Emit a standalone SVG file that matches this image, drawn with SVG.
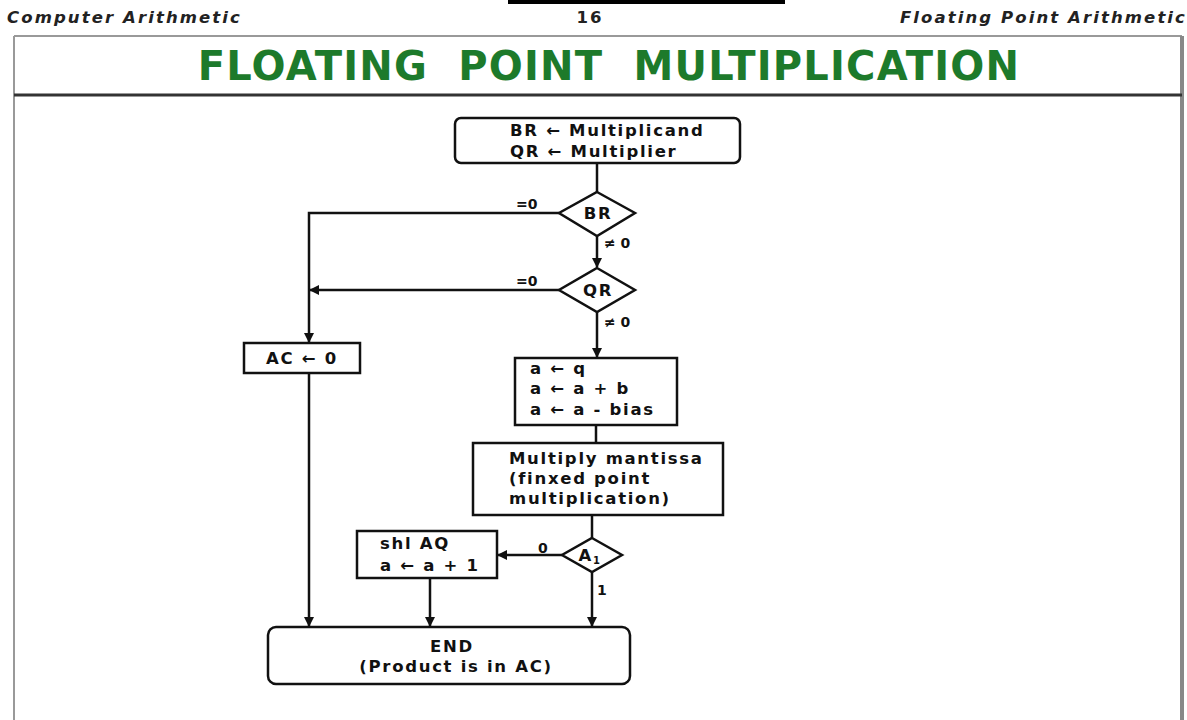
<svg xmlns="http://www.w3.org/2000/svg" width="1187" height="720" viewBox="0 0 1187 720">
<style>
.hd{font-family:"DejaVu Sans",Verdana,sans-serif;font-weight:bold;font-style:italic;font-size:16.5px;fill:#222;letter-spacing:2.1px}
.ttl{font-family:"DejaVu Sans",Verdana,sans-serif;font-weight:bold;font-size:40px;fill:#1d7a2b;letter-spacing:1.2px}
.t{font-family:"DejaVu Sans",Verdana,sans-serif;font-weight:bold;font-size:16.5px;fill:#111;letter-spacing:1.7px}
.lb{font-family:"DejaVu Sans",Verdana,sans-serif;font-weight:bold;font-size:14px;fill:#111}
.box{fill:#fff;stroke:#111;stroke-width:2.5}
.ln{fill:none;stroke:#111;stroke-width:2.5}
</style>
<defs>
<marker id="ar" viewBox="0 0 10 10" refX="9" refY="5" markerWidth="4" markerHeight="4" orient="auto"><path d="M0,0L10,5L0,10z" fill="#111"/></marker>
</defs>
<rect width="1187" height="720" fill="#fff"/>
<rect x="508" y="0" width="277" height="4" fill="#000"/>
<text class="hd" x="7" y="23">Computer Arithmetic</text>
<text class="hd" x="590" y="23" text-anchor="middle" style="font-style:normal">16</text>
<text class="hd" x="1187" y="23" text-anchor="end">Floating Point Arithmetic</text>
<line x1="14" y1="36" x2="1182" y2="36" stroke="#999" stroke-width="2"/>
<line x1="14" y1="36" x2="14" y2="720" stroke="#999" stroke-width="2"/>
<line x1="1182" y1="36" x2="1182" y2="720" stroke="#888" stroke-width="4"/>
<text class="ttl" x="609" y="80" text-anchor="middle" xml:space="preserve">FLOATING  POINT  MULTIPLICATION</text>
<line x1="14" y1="95" x2="1182" y2="95" stroke="#333" stroke-width="3"/>

<g id="connectors">
<line class="ln" x1="597" y1="163" x2="597" y2="192"/>
<polyline class="ln" points="559,213 309,213 309,342" marker-end="url(#ar)"/>
<line class="ln" x1="597" y1="236" x2="597" y2="267" marker-end="url(#ar)"/>
<line class="ln" x1="559" y1="290" x2="310" y2="290" marker-end="url(#ar)"/>
<line class="ln" x1="597" y1="312" x2="597" y2="357" marker-end="url(#ar)"/>
<line class="ln" x1="309" y1="373" x2="309" y2="626" marker-end="url(#ar)"/>
<line class="ln" x1="596" y1="425" x2="596" y2="443"/>
<line class="ln" x1="592" y1="515" x2="592" y2="538"/>
<line class="ln" x1="562" y1="555" x2="498" y2="555" marker-end="url(#ar)"/>
<line class="ln" x1="430" y1="578" x2="430" y2="626" marker-end="url(#ar)"/>
<line class="ln" x1="592" y1="572" x2="592" y2="626" marker-end="url(#ar)"/>
<text class="lb" x="516" y="209">=0</text>
<text class="lb" x="604" y="248">≠ 0</text>
<text class="lb" x="516" y="286">=0</text>
<text class="lb" x="604" y="327">≠ 0</text>
<text class="lb" x="538" y="553">0</text>
<text class="lb" x="597" y="595">1</text>
</g>

<g id="start">
<rect class="box" x="455" y="118" width="285" height="45" rx="6"/>
<text class="t" x="510" y="136">BR ← Multiplicand</text>
<text class="t" x="510" y="157">QR ← Multiplier</text>
</g>
<g id="br">
<polygon class="box" points="597,192 635,213 597,236 559,213"/>
<text class="t" x="598" y="219" text-anchor="middle">BR</text>
</g>
<g id="qr">
<polygon class="box" points="597,268 635,290 597,312 559,290"/>
<text class="t" x="598" y="296" text-anchor="middle">QR</text>
</g>
<g id="ac">
<rect class="box" x="244" y="343" width="116" height="30"/>
<text class="t" x="302" y="364" text-anchor="middle">AC ← 0</text>
</g>
<g id="exp">
<rect class="box" x="515" y="358" width="162" height="67"/>
<text class="t" x="530" y="374">a ← q</text>
<text class="t" x="530" y="394">a ← a + b</text>
<text class="t" x="530" y="415">a ← a - bias</text>
</g>
<g id="mult">
<rect class="box" x="473" y="443" width="250" height="72"/>
<text class="t" x="509" y="464">Multiply mantissa</text>
<text class="t" x="509" y="484">(finxed point</text>
<text class="t" x="509" y="504">multiplication)</text>
</g>
<g id="a1">
<polygon class="box" points="592,538 622,555 592,572 562,555"/>
<text class="t" x="590" y="561" text-anchor="middle">A<tspan font-size="10" dy="3">1</tspan></text>
</g>
<g id="shl">
<rect class="box" x="357" y="531" width="140" height="47"/>
<text class="t" x="380" y="549">shl AQ</text>
<text class="t" x="380" y="571">a ← a + 1</text>
</g>
<g id="end">
<rect class="box" x="268" y="627" width="362" height="57" rx="8"/>
<text class="t" x="452" y="652" text-anchor="middle">END</text>
<text class="t" x="456" y="672" text-anchor="middle">(Product is in AC)</text>
</g>
</svg>
